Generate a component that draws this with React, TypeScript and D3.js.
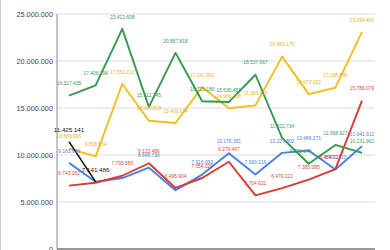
import React from "react";
import * as d3 from "d3";

const months = ["Jan", "Feb", "Mar", "Apr", "May", "Jun", "Jul", "Aug", "Sep", "Oct", "Nov", "Dec"];
const yTicks = [0, 5000000, 10000000, 15000000, 20000000, 25000000];

const blueValues = [9163626, 7150000, 7550000, 8649730, 6250000, 7916693, 10176331, 7930216, 10227802, 10486271, 8452310, 10941912];
const redValues = [6743062, 7050000, 7793583, 9122486, 6495904, 7554020, 9279467, 5704621, 6479222, 7383085, 8489727, 15786079];
const yellowValues = [10669995, 9858634, 17552213, 13649815, 13409634, 17241681, 14966108, 15283415, 20469179, 16473052, 17158590, 23094464];
const greenValues = [16317435, 17406296, 23422608, 15112745, 20867818, 15720186, 15630451, 18537667, 11822734, 9071146, 11068927, 10231962];
const blackValues: (number | null)[] = [11425141, 7141486, null, null, null, null, null, null, null, null, null, null];

// labels hidden by the chart's collision handling
const blueHidden = [1, 2, 4];
const redHidden = [1];

type Series = {
  name: string;
  values: (number | null)[];
  color: string;
  labelColor: string;
  hidden: number[];
  width: number;
  fontSize: number;
  nudgeX: Record<number, number>;
};

const series: Series[] = [
  { name: "blue", values: blueValues, color: "#4a7fe0", labelColor: "#4a7fe0", hidden: blueHidden, width: 1.9, fontSize: 4.9, nudgeX: {} },
  { name: "red", values: redValues, color: "#d93a33", labelColor: "#d94a40", hidden: redHidden, width: 1.9, fontSize: 4.9, nudgeX: { 10: -5 } },
  { name: "yellow", values: yellowValues, color: "#f2bd1d", labelColor: "#e8b420", hidden: [], width: 1.9, fontSize: 4.9, nudgeX: {} },
  { name: "green", values: greenValues, color: "#34994f", labelColor: "#3a9a5c", hidden: [], width: 1.9, fontSize: 4.9, nudgeX: { 9: -8 } },
  { name: "black", values: blackValues, color: "#111111", labelColor: "#111111", hidden: [], width: 1.6, fontSize: 6.2, nudgeX: {} },
];

const W = 390;
const H = 250;

const locale = d3.formatLocale({ decimal: ",", thousands: ".", grouping: [3], currency: ["", ""] });
const fmt = locale.format(",d");

export default function App() {
  const x = d3.scalePoint<string>().domain(months).range([69, 362]);
  const y = d3.scaleLinear().domain([0, 25000000]).range([249, 14]);

  const line = d3
    .line<number | null>()
    .defined((d) => d != null)
    .x((_, i) => x(months[i]) as number)
    .y((d) => y(d as number));

  const font = "'Liberation Sans', Arial, sans-serif";

  return (
    <svg
      width={W}
      height={H}
      viewBox={`0 0 ${W} ${H}`}
      style={{ position: "absolute", left: 0, top: 0, background: "#fff" }}
    >
      <rect x={0} y={0} width={W} height={H} fill="#fff" />
      <line x1={0.5} x2={0.5} y1={0} y2={H} stroke="#d0d0d0" />
      {yTicks.map((t) => (
        <g key={t}>
          {t > 0 && (
            <line x1={57} x2={375} y1={y(t)} y2={y(t)} stroke="#dcdcdc" strokeWidth={1} />
          )}
          <text
            x={53}
            y={y(t)}
            dy="0.35em"
            textAnchor="end"
            fontSize={7.3}
            fontFamily={font}
            fill="#444"
          >
            {fmt(t)}
          </text>
        </g>
      ))}
      <line x1={57} x2={57} y1={y(25000000)} y2={y(0)} stroke="#8a8a8a" strokeWidth={1} />
      <line x1={57} x2={375} y1={y(0)} y2={y(0)} stroke="#333" strokeWidth={1} />
      {series.map((s) => (
        <path
          key={s.name}
          d={line(s.values) || ""}
          fill="none"
          stroke={s.color}
          strokeWidth={s.width}
          strokeLinejoin="round"
        />
      ))}
      {series.map((s) => (
        <g key={s.name + "-labels"}>
          {s.values.map((v, i) =>
            v == null || s.hidden.includes(i) ? null : (
              <text
                key={i}
                x={(x(months[i]) as number) + (s.nudgeX[i] || 0)}
                y={y(v) - 12}
                dy="0.35em"
                textAnchor="middle"
                fontSize={s.fontSize}
                fontFamily={font}
                fill={s.labelColor}
              >
                {fmt(v)}
              </text>
            )
          )}
        </g>
      ))}
    </svg>
  );
}
